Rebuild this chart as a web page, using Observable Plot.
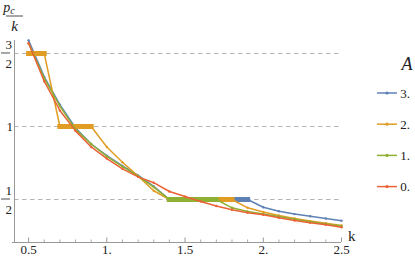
<!DOCTYPE html>
<html><head><meta charset="utf-8">
<script src="https://cdn.jsdelivr.net/npm/d3@7"></script>
<script src="https://cdn.jsdelivr.net/npm/@observablehq/plot@0.6"></script>
<style>body{margin:0;background:#fff} svg{display:block} svg text{font-family:"Liberation Serif","DejaVu Serif",serif !important}</style>
</head><body><div id="chart"></div>
<script>
const kValues = [0.5,0.6,0.7,0.8,0.9,1.0,1.1,1.2,1.3,1.4,1.5,1.6,1.7,1.8,1.9,2.0,2.1,2.2,2.3,2.4,2.5];
const seriesNames = ["3.","2.","1.","0."];
const seriesColors = ["#5E81B5","#E19C24","#8FB032","#EB6235"];
const valuesA3 = [1.59,1.34,1.15,0.99,0.88,0.80,0.73,0.665,0.59,0.5,0.5,0.5,0.5,0.5,0.5,0.447,0.42,0.40,0.385,0.37,0.355];
const valuesA2 = [1.5,1.5,1.0,1.0,1.0,0.86,0.755,0.66,0.56,0.5,0.5,0.5,0.5,0.5,0.443,0.415,0.39,0.37,0.352,0.337,0.322];
const valuesA1 = [1.57,1.33,1.14,0.98,0.88,0.795,0.725,0.66,0.585,0.5,0.5,0.5,0.5,0.443,0.418,0.40,0.383,0.365,0.348,0.333,0.318];
const valuesA0 = [1.57,1.31,1.11,0.97,0.86,0.78,0.71,0.655,0.615,0.555,0.52,0.486,0.455,0.43,0.41,0.396,0.375,0.356,0.34,0.327,0.31];
const seriesValues = [valuesA3, valuesA2, valuesA1, valuesA0];
// flat plateaus (thick segments)
const plateauSeries = ["3.","2.","2.","2.","1."];
const plateauStart = [1.4,0.5,0.7,1.4,1.4];
const plateauEnd = [1.9,0.6,0.9,1.8,1.7];
const plateauValue = [0.5,1.5,1.0,0.5,0.5];

const xDomain = [0.41, 2.5];
const yDomain = [0.2055, 1.589];
const xTicks = [0.5,1,1.5,2,2.5];
const xTickLabels = ["0.5","1.","1.5","2.","2.5"];
const xMinorTicks = [0.6,0.7,0.8,0.9,1.1,1.2,1.3,1.4,1.6,1.7,1.8,1.9,2.1,2.2,2.3,2.4];
const yTicks = [0.5,1,1.5];
const yTickNumerators = ["1","1","3"];
const yTickDenominators = ["2","","2"];
const legendTitle = "A";
const xLabel = "k";

const rows = seriesNames.flatMap((s,i)=>kValues.map((k,j)=>({series:s,k,v:seriesValues[i][j]})));
const plateaus = plateauSeries.map((s,i)=>({series:s,x1:plateauStart[i],x2:plateauEnd[i],y:plateauValue[i]}));
const yTickRows = yTicks.map((v,i)=>({v,num:yTickNumerators[i],den:yTickDenominators[i]}));

const W=415,H=259,mT=40,mB=17,mL=14,mR=74;
const font = "Liberation Serif";

const seriesMarks = seriesNames.flatMap((s)=>[
  Plot.line(rows.filter(d=>d.series===s),{x:"k",y:"v",stroke:"series",strokeWidth:1.5}),
  Plot.dot(rows.filter(d=>d.series===s),{x:"k",y:"v",fill:"series",r:1.2,stroke:null}),
  Plot.link(plateaus.filter(d=>d.series===s),{x1:"x1",x2:"x2",y1:"y",y2:"y",stroke:"series",strokeWidth:5,strokeLinecap:"square"})
]);

const plot = Plot.plot({
  width:W,height:H,marginTop:mT,marginBottom:mB,marginLeft:mL,marginRight:mR,
  style:{fontFamily:font,background:"#fff",overflow:"visible"},
  x:{domain:xDomain,axis:null},
  y:{domain:yDomain,axis:null},
  color:{domain:seriesNames,range:seriesColors},
  marks:[
    Plot.ruleY(yTicks,{y:d=>d,stroke:"#b4b4b4",strokeDasharray:"4.5,3.5",strokeWidth:1}),
    Plot.ruleY([yDomain[0]],{y:d=>d,stroke:"#999",strokeWidth:1,insetLeft:-2}),
    Plot.ruleX([xDomain[0]],{x:d=>d,stroke:"#999",strokeWidth:1}),
    Plot.tickX(xTicks,{x:d=>d,stroke:"#999",insetTop:H-mT-mB-4.5}),
    Plot.tickX(xMinorTicks,{x:d=>d,stroke:"#aaa",insetTop:H-mT-mB-2.5}),
    Plot.text(xTicks,{x:d=>d,text:(d,i)=>xTickLabels[i],frameAnchor:"bottom",dy:11,fontSize:13,fill:"#222"}),
    Plot.text([xLabel],{text:d=>d,frameAnchor:"bottom-right",dx:14,dy:-2,fontSize:15,fill:"#222"}),
    Plot.text(yTickRows.filter(d=>d.den===""),{y:"v",text:"num",frameAnchor:"left",dx:-8,fontSize:13,fill:"#222"}),
    Plot.text(yTickRows.filter(d=>d.den!==""),{y:"v",text:"num",frameAnchor:"left",dx:-9,dy:-9,fontSize:13,fill:"#222"}),
    Plot.text(yTickRows.filter(d=>d.den!==""),{y:"v",text:"den",frameAnchor:"left",dx:-9,dy:10,fontSize:13,fill:"#222"}),
    ...seriesMarks
  ]
});

const svg = d3.select(plot);
const ys = plot.scale("y");
// fraction bars for y tick labels
yTickRows.filter(d=>d.den!=="").forEach(d=>{
  svg.append("line").attr("x1",1).attr("x2",10).attr("y1",ys.apply(d.v)).attr("y2",ys.apply(d.v))
    .attr("stroke","#222").attr("stroke-width",0.8);
});
// y axis label p_c / k
const lab = svg.append("g").attr("fill","#222").attr("font-style","italic");
const num = lab.append("text").attr("x",9).attr("y",12).attr("font-size",14);
num.append("tspan").text("p");
num.append("tspan").attr("font-size",10).attr("dy",2).text("c");
lab.append("line").attr("x1",6).attr("x2",23).attr("y1",16).attr("y2",16).attr("stroke","#222").attr("stroke-width",0.8);
lab.append("text").attr("x",14.5).attr("y",31).attr("font-size",15).attr("text-anchor","middle").text("k");
// legend
const lg = svg.append("g").attr("fill","#222");
lg.append("text").attr("x",407).attr("y",70).attr("font-size",18).attr("font-style","italic").attr("text-anchor","middle").text(legendTitle);
seriesNames.forEach((s,i)=>{
  const y = 93 + i*31.2;
  lg.append("line").attr("x1",377).attr("x2",397).attr("y1",y).attr("y2",y).attr("stroke",seriesColors[i]).attr("stroke-width",1.5);
  lg.append("circle").attr("cx",387).attr("cy",y).attr("r",1.6).attr("fill",seriesColors[i]);
  lg.append("text").attr("x",405).attr("y",y+4.5).attr("font-size",13).text(s);
});
document.getElementById("chart").appendChild(plot);
</script>
</body></html>
